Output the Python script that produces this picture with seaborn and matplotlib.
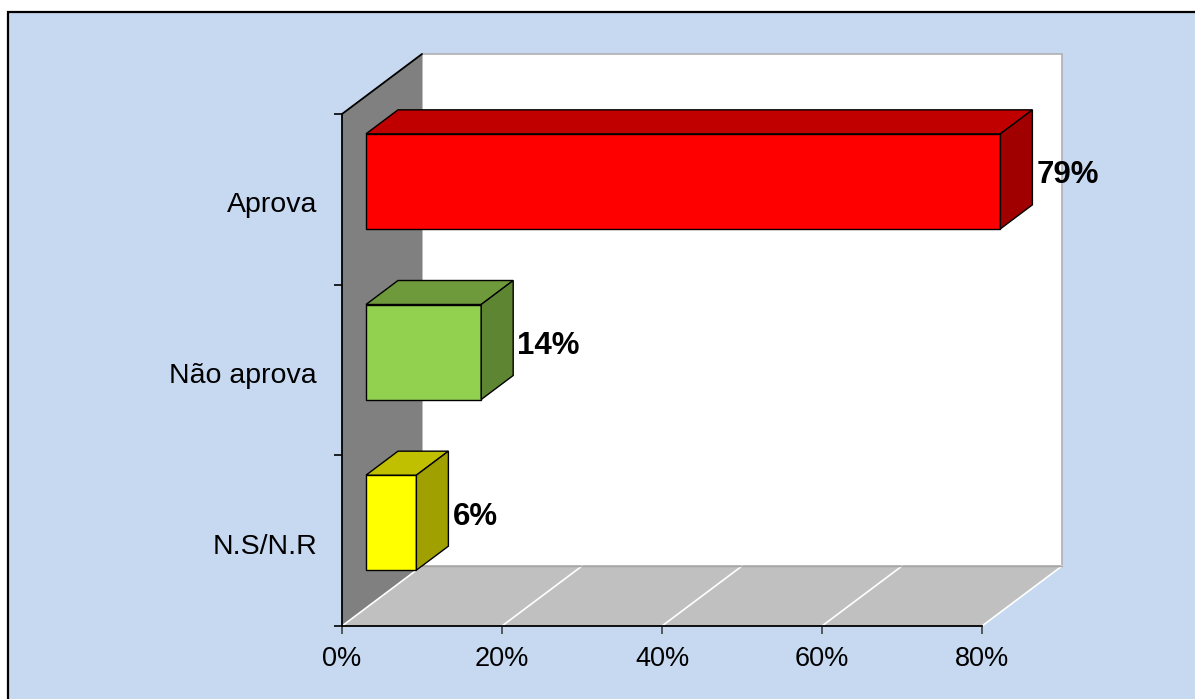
import matplotlib
matplotlib.use("Agg")
import matplotlib.pyplot as plt
import matplotlib.transforms as mtransforms
import seaborn as sns
import pandas as pd
from matplotlib.patches import Polygon, Rectangle

# ---- data ----
categories = ["Aprova", "Não aprova", "N.S/N.R"]
values = [79.3, 14.4, 6.3]
value_labels = ["79%", "14%", "6%"]
x_ticks = [0, 20, 40, 60, 80]
x_ticklabels = ["0%", "20%", "40%", "60%", "80%"]

front_colors = ["#FF0000", "#92D050", "#FFFF00"]
top_colors = ["#C00000", "#6E9A3C", "#C0C000"]
side_colors = ["#A00000", "#5E8532", "#A0A000"]

sns.set_theme(style="white")
plt.rcParams["font.family"] = ["Liberation Sans", "DejaVu Sans"]

W, H = 1195, 699
fig = plt.figure(figsize=(W / 100, H / 100), dpi=100)
fig.patch.set_facecolor("white")
fig.patches.append(Rectangle((8 / W, -0.02), 1.2, (H - 12) / H + 0.02,
                             transform=fig.transFigure, facecolor="#C6D9F0",
                             edgecolor="black", linewidth=1.6, zorder=-5))

ax = fig.add_axes([342 / W, (H - 626) / H, 640 / W, 512 / H])
ax.patch.set_visible(False)

df = pd.DataFrame({"cat": categories, "val": values})
sns.barplot(data=df, x="val", y="cat", hue="cat", palette=front_colors,
            orient="h", width=95 / (512 / 3), legend=False, ax=ax,
            edgecolor="black", linewidth=1.0, saturation=1, zorder=5)
bars = list(ax.patches)

ax.set_xlim(0, 80)
ax.set_ylim(2.5, -0.5)
ax.set_xlabel("")
ax.set_ylabel("")


def depth(f):
    x0, y0 = ax.transData.transform((0, 0))
    return tuple(ax.transData.inverted().transform((x0 + 80 * f, y0 + 60 * f)))


DX, DY = depth(1.0)
xmin, xmax = 0, 80
ytop, ybot = -0.5, 2.5

# back wall
ax.add_patch(Polygon([(xmin + DX, ytop + DY), (xmax + DX, ytop + DY),
                      (xmax + DX, ybot + DY), (xmin + DX, ybot + DY)],
                     closed=True, facecolor="white", edgecolor="#B0B0B0",
                     linewidth=1.2, zorder=0.5, clip_on=False))
# left wall
ax.add_patch(Polygon([(xmin, ytop), (xmin, ybot), (xmin + DX, ybot + DY),
                      (xmin + DX, ytop + DY)], closed=True,
                     facecolor="#808080", edgecolor="none", zorder=0.6,
                     clip_on=False))
# floor
ax.add_patch(Polygon([(xmin, ybot), (xmax, ybot), (xmax + DX, ybot + DY),
                      (xmin + DX, ybot + DY)], closed=True,
                     facecolor="#C0C0C0", edgecolor="none", zorder=0.7,
                     clip_on=False))
for xv in x_ticks:
    ax.plot([xv, xv + DX], [ybot, ybot + DY], color="white", lw=1.2,
            zorder=0.8, clip_on=False)
ax.plot([xmin + DX, xmax + DX], [ybot + DY, ybot + DY], color="#A6A6A6",
        lw=1.0, zorder=0.8, clip_on=False)
# top edge of left wall
ax.plot([xmin, xmin + DX], [ytop, ytop + DY], color="black", lw=1.3,
        zorder=3, clip_on=False)

# 3D bars
fx, fy = depth(0.3)
bx, by = depth(0.4)
for i, r in enumerate(bars):
    r.set_x(r.get_x() + fx)
    r.set_y(r.get_y() + fy)
    r.set_clip_on(False)
    xl = r.get_x()
    xr = xl + r.get_width()
    yt = r.get_y()
    yb = yt + r.get_height()
    ax.add_patch(Polygon([(xl, yt), (xr, yt), (xr + bx, yt + by), (xl + bx, yt + by)],
                         closed=True, facecolor=top_colors[i], edgecolor="black",
                         linewidth=1.0, zorder=5, clip_on=False))
    ax.add_patch(Polygon([(xr, yt), (xr, yb), (xr + bx, yb + by), (xr + bx, yt + by)],
                         closed=True, facecolor=side_colors[i], edgecolor="black",
                         linewidth=1.0, zorder=5, clip_on=False))
    ax.annotate(value_labels[i], xy=(xr + bx, (yt + yb) / 2 + by / 2),
                xytext=(4, -6), textcoords="offset pixels",
                ha="left", va="center", fontsize=22.5, fontweight="bold",
                color="black", zorder=6, annotation_clip=False)

# axes styling
for s in ["top", "right"]:
    ax.spines[s].set_visible(False)
for s in ["left", "bottom"]:
    ax.spines[s].set_visible(True)
    ax.spines[s].set_color("black")
    ax.spines[s].set_linewidth(1.3)
    ax.spines[s].set_zorder(3)

ax.set_yticks(range(len(categories)))
ax.set_yticklabels(categories)
ax.set_yticks([-0.5, 0.5, 1.5, 2.5], minor=True)
ax.tick_params(axis="y", which="major", length=0, pad=18, labelsize=20.5,
               labelcolor="black")
ax.tick_params(axis="y", which="minor", length=6, width=1.2, color="black",
               direction="out", left=True)
ax.set_xticks(x_ticks)
ax.set_xticklabels(x_ticklabels)
ax.tick_params(axis="x", which="major", length=6, width=1.2, color="#404040",
               direction="out", bottom=True, pad=8.5, labelsize=19.5,
               labelcolor="black")

shift = mtransforms.ScaledTranslation(0, -3 / 100, fig.dpi_scale_trans)
for lbl in ax.get_yticklabels():
    lbl.set_transform(lbl.get_transform() + shift)

fig.savefig("out.png", dpi=100, facecolor="white")
